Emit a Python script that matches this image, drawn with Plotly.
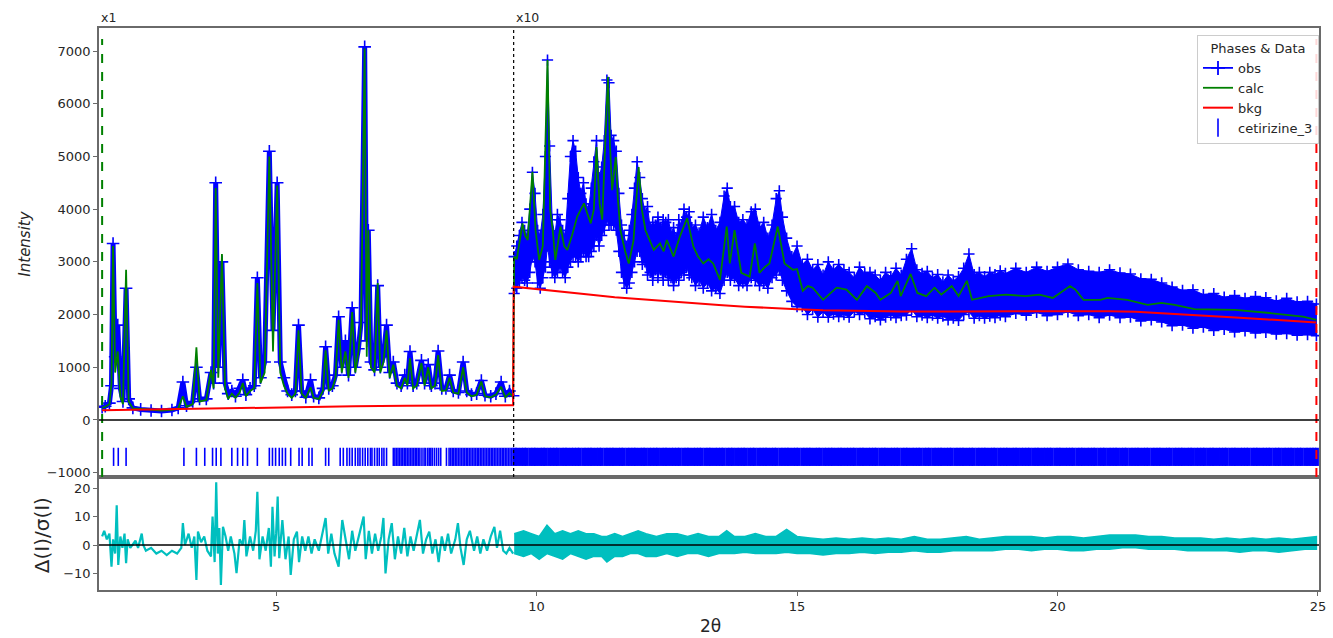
import plotly.graph_objects as go

# ---------------- data ----------------
# low-angle segment, shown at scale x1: key points of the profile
seg1_tth = [1.66, 1.72, 1.80, 1.84, 1.87, 1.91, 1.96, 2.01, 2.06, 2.12,
            2.17, 2.25, 2.40, 2.60, 2.80, 3.00, 3.12, 3.21, 3.28, 3.40,
            3.47, 3.53, 3.66, 3.75, 3.80, 3.84, 3.89, 3.96, 4.02, 4.08,
            4.15, 4.22, 4.30, 4.36, 4.42, 4.50, 4.58, 4.64, 4.70, 4.78,
            4.87, 4.94, 5.02, 5.08, 5.15, 5.22, 5.30, 5.37, 5.43, 5.49,
            5.57, 5.66, 5.72, 5.82, 5.90, 5.95, 6.01, 6.08, 6.14, 6.20,
            6.26, 6.33, 6.39, 6.46, 6.52, 6.58, 6.63, 6.70, 6.74, 6.77,
            6.82, 6.89, 6.95, 7.00, 7.06, 7.12, 7.18, 7.25, 7.32, 7.40,
            7.47, 7.52, 7.57, 7.63, 7.70, 7.79, 7.85, 7.92, 7.98, 8.05,
            8.11, 8.18, 8.26, 8.33, 8.40, 8.50, 8.59, 8.66, 8.75, 8.85,
            8.94, 9.01, 9.12, 9.22, 9.32, 9.40, 9.48, 9.55]
seg1_calc = [230, 250, 300, 700, 3300, 900, 1300, 450, 300, 2850,
             350, 220, 210, 190, 180, 190, 220, 450, 250, 300,
             1380, 350, 380, 950, 600, 4400, 800, 3150, 600, 400,
             500, 420, 520, 700, 450, 550, 600, 2600, 700, 900,
             5000, 1300, 4450, 900, 650, 500, 420, 500, 1700, 500,
             420, 620, 420, 400, 550, 1320, 550, 600, 800, 1900,
             900, 1300, 800, 2050, 900, 1300, 1800, 7050, 1200, 3600,
             1000, 900, 2600, 900, 1100, 1700, 800, 1050, 650, 600,
             800, 650, 1170, 600, 650, 1080, 650, 1000, 600, 650,
             1230, 550, 560, 800, 520, 500, 1000, 520, 450, 480,
             730, 450, 430, 480, 630, 430, 510, 440]
seg1_obs = [240, 260, 320, 650, 3350, 1200, 1800, 600, 350, 2500,
            400, 230, 200, 180, 170, 190, 230, 720, 270, 350,
            1000, 400, 400, 900, 700, 4500, 1000, 3000, 700, 500,
            550, 450, 600, 760, 480, 600, 650, 2700, 800, 1100,
            5100, 1700, 4500, 1100, 800, 550, 480, 550, 1800, 550,
            430, 760, 450, 420, 600, 1390, 600, 650, 850, 1960,
            1000, 1500, 850, 2130, 1000, 1350, 1850, 7080, 1500, 3600,
            1100, 950, 2550, 1000, 1200, 1800, 900, 1100, 700, 650,
            850, 700, 1300, 650, 700, 1130, 700, 1050, 650, 700,
            1310, 600, 600, 850, 550, 520, 1100, 550, 480, 500,
            750, 470, 450, 500, 720, 450, 550, 460]

# high-angle segment, shown at scale x10: observed band (upper / lower edge)
seg2_tth = [9.57, 9.62, 9.67, 9.72, 9.77, 9.82, 9.87, 9.92, 9.97, 10.02,
            10.07, 10.12, 10.17, 10.21, 10.25, 10.30, 10.35, 10.40, 10.45, 10.50,
            10.55, 10.60, 10.65, 10.70, 10.75, 10.80, 10.85, 10.90, 10.95, 11.00,
            11.05, 11.10, 11.15, 11.20, 11.25, 11.30, 11.35, 11.39, 11.43, 11.48,
            11.53, 11.58, 11.63, 11.68, 11.73, 11.78, 11.83, 11.88, 11.93, 11.98,
            12.03, 12.08, 12.13, 12.18, 12.23, 12.28, 12.33, 12.38, 12.43, 12.48,
            12.53, 12.58, 12.63, 12.68, 12.73, 12.78, 12.83, 12.88, 12.93, 12.98,
            13.05, 13.12, 13.20, 13.28, 13.36, 13.44, 13.52, 13.60, 13.66, 13.72,
            13.80, 13.88, 13.96, 14.04, 14.12, 14.20, 14.28, 14.36, 14.44, 14.52,
            14.60, 14.66, 14.72, 14.80, 14.90, 15.00, 15.10, 15.20, 15.30, 15.40,
            15.50, 15.60, 15.70, 15.80, 15.90, 16.00, 16.10, 16.20, 16.30, 16.40,
            16.50, 16.60, 16.70, 16.80, 16.90, 17.00, 17.10, 17.20, 17.30, 17.40,
            17.50, 17.60, 17.70, 17.80, 17.90, 18.00, 18.10, 18.20, 18.30, 18.40,
            18.50, 18.60, 18.70, 18.80, 18.90, 19.00, 19.20, 19.40, 19.60, 19.80,
            20.00, 20.20, 20.40, 20.60, 20.80, 21.00, 21.20, 21.40, 21.60, 21.80,
            22.00, 22.20, 22.40, 22.60, 22.80, 23.00, 23.20, 23.40, 23.60, 23.80,
            24.00, 24.20, 24.40, 24.60, 24.80, 24.97]
seg2_obs_hi = [3100, 3300, 3500, 3750, 3600, 3500, 4000, 4700, 4300, 3600,
               3500, 3900, 5000, 6830, 5200, 3800, 3500, 3900, 3800, 3600,
               3500, 4200, 5000, 5300, 5100, 4600, 4300, 4500, 4100, 4000,
               4400, 4900, 5300, 4600, 4800, 5300, 6450, 6400, 5400, 5300,
               5100, 4300, 3700, 3500, 3300, 3600, 3900, 4400, 4900, 4600,
               4200, 3950, 4050, 3650, 3750, 3700, 3850, 3650, 3800, 3750,
               3800, 3550, 3650, 3450, 3800, 3700, 4000, 3850, 3950, 3650,
               3700, 3550, 3850, 3650, 3900, 3600, 3750, 4250, 4400, 4050,
               4050, 3750, 3800, 3700, 3950, 4000, 3650, 3750, 3450, 3700,
               4200, 4350, 3850, 3450, 3100, 3300, 2950, 3050, 2850, 2950,
               2750, 3000, 2850, 2950, 2850, 2800, 2700, 2900, 2780, 2800,
               2750, 2650, 2800, 2720, 2880, 2750, 3050, 3250, 2850, 2780,
               2820, 2700, 2760, 2620, 2750, 2640, 2720, 2880, 3150, 2760,
               2800, 2720, 2800, 2760, 2830, 2780, 2880, 2800, 2900, 2820,
               2900, 2960, 2850, 2820, 2800, 2850, 2790, 2770, 2680, 2670,
               2600, 2520, 2460, 2470, 2380, 2400, 2330, 2360, 2310, 2340,
               2320, 2260, 2310, 2240, 2250, 2200]
seg2_obs_lo = [2400, 2500, 2600, 2700, 2650, 2600, 2800, 3100, 3000, 2600,
               2500, 2700, 2900, 3300, 3000, 2800, 2700, 2800, 2900, 2800,
               2700, 2900, 3000, 3100, 3100, 3000, 3100, 3200, 3100, 3100,
               3200, 3300, 3500, 3300, 3500, 3600, 3800, 3700, 3700, 3700,
               3600, 3200, 2800, 2600, 2500, 2600, 2800, 3000, 3200, 3200,
               2950, 3000, 2750, 2800, 2650, 2850, 2700, 2850, 2650, 2800,
               2650, 2700, 2550, 2700, 2650, 2800, 2750, 2900, 2750, 2700,
               2550, 2650, 2500, 2600, 2450, 2500, 2400, 2650, 2800, 2650,
               2700, 2550, 2600, 2550, 2700, 2650, 2550, 2600, 2500, 2700,
               2750, 2850, 2650, 2450, 2250, 2150, 2150, 2000, 2100, 1950,
               2050, 1950, 2010, 1960, 2000, 1950, 2060, 2000, 2040, 1920,
               1960, 1900, 1950, 1990, 1940, 1980, 1990, 2100, 1960, 1990,
               1940, 1990, 1930, 1970, 1900, 1930, 1890, 2000, 2050, 1930,
               1980, 1930, 1970, 1940, 1990, 1960, 2020, 1990, 2040, 1980,
               2000, 2050, 1980, 2000, 1940, 1990, 1940, 1950, 1880, 1900,
               1860, 1790, 1800, 1740, 1760, 1700, 1720, 1670, 1690, 1650,
               1660, 1630, 1640, 1610, 1620, 1600]

# high-angle calculated profile (x10)
seg2_calc_tth = [9.57, 9.62, 9.68, 9.73, 9.78, 9.83, 9.92, 9.98, 10.05, 10.12,
                 10.21, 10.26, 10.31, 10.36, 10.46, 10.53, 10.59, 10.68, 10.78, 10.91,
                 10.98, 11.04, 11.10, 11.15, 11.21, 11.26, 11.37, 11.41, 11.45, 11.52,
                 11.56, 11.61, 11.70, 11.77, 11.86, 11.96, 12.02, 12.09, 12.25, 12.37,
                 12.44, 12.50, 12.63, 12.75, 12.89, 13.01, 13.10, 13.20, 13.30, 13.39,
                 13.52, 13.65, 13.71, 13.80, 13.93, 14.09, 14.19, 14.28, 14.38, 14.47,
                 14.63, 14.76, 14.92, 15.00, 15.11, 15.21, 15.30, 15.50, 15.76, 15.95,
                 16.15, 16.34, 16.51, 16.60, 16.80, 16.93, 16.99, 17.18, 17.31, 17.48,
                 17.64, 17.77, 17.97, 18.10, 18.26, 18.36, 18.68, 19.01, 19.39, 19.65,
                 19.91, 20.24, 20.34, 20.50, 20.82, 20.96, 21.34, 21.73, 21.99, 22.25,
                 22.63, 23.41, 24.07, 24.71, 24.97]
seg2_calc = [3100, 3050, 3400, 3730, 3500, 3415, 4710, 3600, 3036, 3300,
             6830, 4000, 3600, 3036, 3670, 3300, 3226, 3500, 3860, 4110,
             3900, 3730, 4000, 5180, 4100, 3800, 6510, 5200, 4360, 4990,
             4200, 3600, 3200, 2970, 3400, 4800, 4000, 3600, 3226, 3350,
             3200, 3415, 3100, 3480, 3830, 3290, 3100, 2970, 3050, 2970,
             2660, 3670, 2970, 3600, 2790, 2720, 3350, 2790, 2900, 2970,
             3670, 2970, 2850, 2865, 2450, 2540, 2510, 2280, 2510, 2475,
             2280, 2540, 2410, 2280, 2410, 2640, 2350, 2770, 2410, 2350,
             2510, 2380, 2540, 2350, 2640, 2280, 2350, 2380, 2350, 2380,
             2315, 2540, 2475, 2280, 2280, 2315, 2280, 2185, 2220, 2185,
             2105, 2090, 2030, 1960, 1900]

# background (both segments, as displayed)
bkg_tth = [1.66, 2.5, 3.5, 4.5, 5.5, 6.5, 7.5, 8.5, 9.55, 9.56,
           10.0, 10.5, 11.0, 11.5, 12.0, 12.5, 13.0, 13.5, 14.0, 14.5,
           15.0, 15.5, 16.0, 17.0, 18.0, 19.0, 20.0, 21.0, 21.5, 22.0,
           22.5, 23.0, 23.5, 24.0, 24.5, 24.97]
bkg = [185, 200, 215, 230, 245, 258, 268, 275, 280, 2530,
       2480, 2430, 2380, 2330, 2290, 2250, 2210, 2180, 2150, 2120,
       2100, 2080, 2070, 2060, 2060, 2065, 2070, 2065, 2055, 2030,
       2000, 1970, 1940, 1910, 1880, 1850]

# reflection positions of cetirizine_3
refl_low = [1.88, 1.97, 2.12, 3.23, 3.47, 3.63, 3.78, 3.85, 3.94, 4.15,
            4.26, 4.36, 4.45, 4.64, 4.87, 4.93, 4.99, 5.06, 5.12, 5.18,
            5.28, 5.44, 5.50, 5.63, 5.69, 5.95, 6.01, 6.23, 6.29, 6.36,
            6.41, 6.46, 6.52, 6.57, 6.61, 6.66, 6.71, 6.76, 6.81, 6.84,
            6.89, 6.94, 6.98, 7.03, 7.07, 7.12, 7.25, 7.28, 7.31, 7.34,
            7.37, 7.40, 7.43, 7.46, 7.49, 7.52, 7.55, 7.58, 7.61, 7.64,
            7.67, 7.70, 7.73, 7.76, 7.80, 7.84, 7.87, 7.91, 7.94, 7.97,
            8.00, 8.04, 8.08, 8.12, 8.16, 8.27, 8.32, 8.35, 8.38, 8.41,
            8.44, 8.47, 8.50, 8.53, 8.56, 8.59, 8.62, 8.65, 8.68, 8.71,
            8.74, 8.77, 8.80, 8.83, 8.86, 8.89, 8.92, 8.95, 8.98, 9.01,
            9.04, 9.07, 9.10, 9.13, 9.16, 9.19, 9.22, 9.25, 9.28, 9.31,
            9.34, 9.37, 9.40, 9.43, 9.46, 9.49, 9.52, 9.55]
refl_high = [9.58, 9.63, 9.70, 9.76, 9.81, 9.88, 9.94, 9.99, 10.06, 10.12,
             10.17, 10.24, 10.30, 10.36, 10.41, 10.48, 10.54, 10.59, 10.66, 10.72,
             10.78, 10.83, 10.90, 10.96, 11.02, 11.07, 11.14, 11.20, 11.25, 11.32,
             11.38, 11.44, 11.49, 11.56, 11.62, 11.67, 11.74, 11.80, 11.86, 11.91,
             11.98, 12.04, 12.09, 12.16, 12.22, 12.28, 12.33, 12.40, 12.46, 12.51,
             12.58, 12.64, 12.70, 12.75, 12.82, 12.88, 12.93, 13.00, 13.06, 13.12,
             13.17, 13.24, 13.30, 13.35, 13.42, 13.48, 13.54, 13.59, 13.66, 13.72,
             13.77, 13.84, 13.90, 13.96, 14.01, 14.08, 14.14, 14.19, 14.26, 14.32,
             14.38, 14.43, 14.50, 14.56, 14.61, 14.68, 14.74, 14.80, 14.85, 14.92,
             14.98, 15.03, 15.10, 15.16, 15.22, 15.27, 15.34, 15.40, 15.45, 15.52,
             15.58, 15.64, 15.69, 15.76, 15.82, 15.87, 15.94, 16.00, 16.06, 16.11,
             16.18, 16.24, 16.29, 16.36, 16.42, 16.48, 16.53, 16.60, 16.66, 16.71,
             16.78, 16.84, 16.90, 16.95, 17.02, 17.08, 17.13, 17.20, 17.26, 17.32,
             17.37, 17.44, 17.50, 17.55, 17.62, 17.68, 17.74, 17.79, 17.86, 17.92,
             17.97, 18.04, 18.10, 18.16, 18.21, 18.28, 18.34, 18.39, 18.46, 18.52,
             18.58, 18.63, 18.70, 18.76, 18.81, 18.88, 18.94, 19.00, 19.05, 19.12,
             19.18, 19.23, 19.30, 19.36, 19.42, 19.47, 19.54, 19.60, 19.65, 19.72,
             19.78, 19.84, 19.89, 19.96, 20.02, 20.07, 20.14, 20.20, 20.26, 20.31,
             20.38, 20.44, 20.49, 20.56, 20.62, 20.68, 20.73, 20.80, 20.86, 20.91,
             20.98, 21.04, 21.10, 21.15, 21.22, 21.28, 21.33, 21.40, 21.46, 21.52,
             21.57, 21.64, 21.70, 21.75, 21.82, 21.88, 21.94, 21.99, 22.06, 22.12,
             22.17, 22.24, 22.30, 22.36, 22.41, 22.48, 22.54, 22.59, 22.66, 22.72,
             22.78, 22.83, 22.90, 22.96, 23.01, 23.08, 23.14, 23.20, 23.25, 23.32,
             23.38, 23.43, 23.50, 23.56, 23.62, 23.67, 23.74, 23.80, 23.85, 23.92,
             23.98, 24.04, 24.09, 24.16, 24.22, 24.27, 24.34, 24.40, 24.46, 24.51,
             24.58, 24.64, 24.69, 24.76, 24.82, 24.88, 24.93, 24.98]

# normalised difference, low-angle segment
res1_tth = [1.66, 1.70, 1.75, 1.80, 1.84, 1.87, 1.91, 1.94, 1.97, 2.01,
            2.05, 2.09, 2.12, 2.15, 2.20, 2.30, 2.35, 2.42, 2.45, 2.50,
            2.60, 2.70, 2.80, 2.90, 3.00, 3.10, 3.18, 3.21, 3.25, 3.32,
            3.38, 3.43, 3.47, 3.50, 3.56, 3.62, 3.68, 3.75, 3.78, 3.82,
            3.85, 3.88, 3.91, 3.94, 3.98, 4.03, 4.08, 4.13, 4.20, 4.24,
            4.30, 4.36, 4.39, 4.43, 4.50, 4.56, 4.61, 4.64, 4.68, 4.74,
            4.80, 4.86, 4.90, 4.93, 4.97, 5.00, 5.03, 5.06, 5.12, 5.18,
            5.24, 5.28, 5.34, 5.40, 5.44, 5.50, 5.56, 5.62, 5.68, 5.74,
            5.82, 5.88, 5.95, 6.00, 6.06, 6.12, 6.20, 6.27, 6.33, 6.40,
            6.46, 6.52, 6.60, 6.68, 6.72, 6.78, 6.84, 6.90, 6.96, 7.02,
            7.06, 7.10, 7.16, 7.22, 7.28, 7.34, 7.40, 7.46, 7.52, 7.58,
            7.64, 7.70, 7.76, 7.82, 7.88, 7.94, 8.00, 8.06, 8.12, 8.18,
            8.24, 8.30, 8.36, 8.44, 8.49, 8.54, 8.60, 8.66, 8.72, 8.80,
            8.86, 8.92, 8.98, 9.05, 9.12, 9.19, 9.24, 9.30, 9.36, 9.42,
            9.48, 9.55]
res1 = [3, 5, 2, 4, -7.6, 2, -3, 14, -7, 3,
        -1, 4, -6.4, 2, -1, 1.5, -1, 4, 0, -2,
        -1, -3, -2, -3.5, -2, -3, -1, 7.7, 0, 4,
        -1, 3, -12.3, 4.7, 1, 3, -2, -4, 10, -6,
        22, -3, 6, -14, 6.4, 3, -2, 3, -3, -9.9,
        2, 0, 8.8, -4, 3, -2, 5, 18.7, -5, 3,
        -2, 6, -7.6, 13.4, -4, 4, 17, -4.6, 8.8, -5,
        3, -10.5, 2, 4.7, -6, 3, -2, 3, -3, 2,
        -2, 3, 9.5, -3, 4, -3, -7.6, 8.8, 2, -5,
        5, -2, 4, 10, -5, 5, -3, 4, -2, 3,
        9.5, -10, 2, 7.7, -5, 3, -3, 6, -4, 3,
        -2, 4, 8.8, -3, 2, 4.7, -3, 2, -6, 3,
        -2, 4, -3, 2, 7.7, -1, -7, 2, 5, -2,
        3, -3, 2, -2, 3, 6.4, -1, 5, -2, -3,
        -1, -3]

# normalised difference, high-angle segment (upper / lower edge of the noise band)
res2_tth = [9.57, 9.75, 9.90, 10.05, 10.20, 10.35, 10.50, 10.65, 10.80, 10.95,
            11.10, 11.25, 11.35, 11.50, 11.65, 11.80, 11.95, 12.10, 12.30, 12.50,
            12.70, 12.90, 13.10, 13.30, 13.50, 13.65, 13.80, 14.00, 14.20, 14.40,
            14.60, 14.80, 15.00, 15.25, 15.50, 15.75, 16.00, 16.25, 16.50, 16.75,
            17.00, 17.25, 17.50, 17.75, 18.00, 18.25, 18.50, 18.75, 19.00, 19.25,
            19.50, 19.75, 20.00, 20.25, 20.50, 20.75, 21.00, 21.25, 21.50, 21.75,
            22.00, 22.25, 22.50, 22.75, 23.00, 23.25, 23.50, 23.75, 24.00, 24.25,
            24.50, 24.75, 24.97]
res2_hi = [4, 5, 4, 3, 7, 4, 5, 4, 5, 4,
           4, 3, 3, 4, 3, 4, 5, 4, 3, 4,
           4, 3, 4, 3, 3, 5, 3, 3, 4, 3,
           3, 5.5, 3, 2.5, 2, 2.5, 2, 2.5, 2, 2.5,
           2, 3, 2, 2, 2.5, 3, 2, 2.5, 3, 3,
           3, 2.5, 3, 3, 2.5, 3, 3.5, 3.5, 3.5, 3,
           3, 2.5, 2.5, 2.5, 2, 2.5, 2, 2.5, 2, 2.5,
           2, 2.5, 3]
res2_lo = [-3, -4, -3, -5, -3, -4, -5, -3, -4, -5,
           -4, -4, -6, -4, -4, -3, -3, -4, -4, -3,
           -4, -3, -3, -4, -3, -3, -3, -2.5, -3, -3,
           -3, -2.5, -3, -3, -3.5, -3, -3, -2.5, -3, -2.5,
           -2.5, -2, -2.5, -2.5, -2, -2, -2, -2, -1.5, -1.5,
           -2, -1.5, -1.5, -2, -2, -1.5, -1.5, -1, -1, -1.5,
           -1.5, -1.5, -2, -2, -2, -2, -2.5, -2, -2, -2.5,
           -2, -1.5, -1.5]

int_ticks = [-1000, 0, 1000, 2000, 3000, 4000, 5000, 6000, 7000]
int_ticktext = ["\u22121000", "0", "1000", "2000", "3000", "4000", "5000", "6000", "7000"]
res_ticks = [-10, 0, 10, 20]
res_ticktext = ["\u221210", "0", "10", "20"]
tth_ticks = [5, 10, 15, 20, 25]

# ---------------- styling / layout constants ----------------
BLUE, GREEN, RED, CYAN = "#0000ff", "#008000", "#ff0000", "#00bfbf"
SPINE = "#6a6a6a"
FONT = "DejaVu Sans"
TXT = "#262626"
REFL_Y = -700
X_RANGE = [1.60, 25.02]
Y2_RANGE = [-1082, 7438]
Y1_RANGE = [-15.8, 23.9]
SPLIT = 0.2011
SEG_BREAK = 9.56
MARK_TOP = 7230

fig = go.Figure()

common2 = dict(xaxis="x2", yaxis="y2", hoverinfo="skip")

# observed, high-angle band
fig.add_trace(go.Scatter(x=seg2_tth + seg2_tth[::-1], y=seg2_obs_hi + seg2_obs_lo[::-1],
                         mode="lines", fill="toself", fillcolor=BLUE,
                         line=dict(color=BLUE, width=1), showlegend=False, **common2))
for edge in (seg2_obs_hi, seg2_obs_lo):
    fig.add_trace(go.Scatter(x=seg2_tth, y=edge, mode="markers",
                             marker=dict(symbol="cross-thin", size=8, color=BLUE,
                                         line=dict(color=BLUE, width=1.6)),
                             showlegend=False, **common2))
# observed, low-angle
fig.add_trace(go.Scatter(x=seg1_tth, y=seg1_obs, mode="lines+markers",
                         line=dict(color=BLUE, width=5),
                         marker=dict(symbol="cross-thin", size=9, color=BLUE,
                                     line=dict(color=BLUE, width=1.6)),
                         showlegend=False, **common2))
# legend entry for obs
fig.add_trace(go.Scatter(x=[None], y=[None], mode="lines+markers", name="obs",
                         line=dict(color=BLUE, width=1.8),
                         marker=dict(symbol="cross-thin", size=10, color=BLUE,
                                     line=dict(color=BLUE, width=1.8)),
                         legendrank=1, **common2))
# calc
fig.add_trace(go.Scatter(x=seg1_tth + seg2_calc_tth, y=seg1_calc + seg2_calc,
                         mode="lines", name="calc", line=dict(color=GREEN, width=1.8),
                         legendrank=2, **common2))
# background
fig.add_trace(go.Scatter(x=bkg_tth, y=bkg, mode="lines", name="bkg",
                         line=dict(color=RED, width=2), legendrank=3, **common2))
# reflection ticks
fig.add_trace(go.Scatter(x=refl_low, y=[REFL_Y] * len(refl_low), mode="markers",
                         marker=dict(symbol="line-ns", size=13,
                                     line=dict(color=BLUE, width=1.6)),
                         name="cetirizine_3", legendrank=4, **common2))
fig.add_trace(go.Scatter(x=refl_high, y=[REFL_Y] * len(refl_high), mode="markers",
                         marker=dict(symbol="line-ns", size=13,
                                     line=dict(color=BLUE, width=4)),
                         showlegend=False, **common2))
# residuals
fig.add_trace(go.Scatter(x=res1_tth, y=res1, mode="lines", line=dict(color=CYAN, width=2.2),
                         showlegend=False, xaxis="x", yaxis="y", hoverinfo="skip"))
fig.add_trace(go.Scatter(x=res2_tth + res2_tth[::-1], y=res2_hi + res2_lo[::-1],
                         mode="lines", fill="toself", fillcolor=CYAN,
                         line=dict(color=CYAN, width=1.5),
                         showlegend=False, xaxis="x", yaxis="y", hoverinfo="skip"))

axis_common = dict(showline=True, linecolor=SPINE, linewidth=1.5, mirror=True,
                   showgrid=False, zeroline=False,
                   tickfont=dict(family=FONT, size=13, color=TXT))

fig.update_layout(
    width=1333, height=638,
    margin=dict(l=99, r=7, t=28, b=48),
    paper_bgcolor="white", plot_bgcolor="white",
    font=dict(family=FONT, color=TXT),
    xaxis=dict(domain=[0, 1], anchor="y", range=X_RANGE, tickvals=tth_ticks,
               ticks="outside", ticklen=4, tickwidth=1, tickcolor=SPINE, **axis_common),
    xaxis2=dict(domain=[0, 1], anchor="y2", range=X_RANGE, matches="x",
                showticklabels=False, ticks="", **axis_common),
    yaxis=dict(domain=[0, SPLIT], anchor="x", range=Y1_RANGE, tickvals=res_ticks,
               ticktext=res_ticktext, ticks="outside", ticklen=4, tickwidth=1,
               tickcolor=SPINE, **axis_common),
    yaxis2=dict(domain=[SPLIT, 1], anchor="x2", range=Y2_RANGE, tickvals=int_ticks,
                ticktext=int_ticktext, ticks="outside", ticklen=4, tickwidth=1,
                tickcolor=SPINE, **axis_common),
    legend=dict(x=1.0, xanchor="right", y=0.9875, yanchor="top",
                bgcolor="rgba(255,255,255,0.85)", bordercolor="#cccccc", borderwidth=1,
                font=dict(family=FONT, size=13, color=TXT),
                title=dict(text="Phases & Data", side="top center",
                           font=dict(family=FONT, size=13, color=TXT)),
                tracegroupgap=0, itemwidth=30),
    showlegend=True,
)

shapes = [
    dict(type="line", xref="x2", yref="y2", x0=seg1_tth[0], x1=seg1_tth[0],
         y0=Y2_RANGE[0], y1=MARK_TOP, line=dict(color=GREEN, width=2, dash="dash")),
    dict(type="line", xref="x2", yref="y2", x0=seg2_tth[-1], x1=seg2_tth[-1],
         y0=Y2_RANGE[0], y1=MARK_TOP, line=dict(color=RED, width=2, dash="dash")),
    dict(type="line", xref="x2", yref="y2 domain", x0=SEG_BREAK, x1=SEG_BREAK,
         y0=0, y1=1, line=dict(color="black", width=1.2, dash="dot")),
    dict(type="line", xref="x2 domain", yref="y2", x0=0, x1=1, y0=0, y1=0,
         line=dict(color="black", width=1.6)),
    dict(type="line", xref="x domain", yref="y", x0=0, x1=1, y0=0, y1=0,
         line=dict(color="black", width=1.6)),
]
fig.update_layout(shapes=shapes)

ann = [
    dict(text="x1", xref="x2", yref="paper", x=X_RANGE[0], y=1, xanchor="left",
         yanchor="bottom", showarrow=False, yshift=1,
         font=dict(family=FONT, size=12.5, color=TXT)),
    dict(text="x10", xref="x2", yref="paper", x=SEG_BREAK, y=1, xanchor="left",
         yanchor="bottom", showarrow=False, yshift=1,
         font=dict(family=FONT, size=12.5, color=TXT)),
    dict(text="<i>Intensity</i>", xref="paper", yref="paper", x=-0.0603, y=0.617,
         xanchor="center", yanchor="middle",
         textangle=-90, showarrow=False, font=dict(family=FONT, size=15, color=TXT)),
    dict(text="\u0394(I)/\u03c3(I)", xref="paper", yref="paper", x=-0.0465, y=0.098,
         xanchor="center", yanchor="middle",
         textangle=-90, showarrow=False, font=dict(family=FONT, size=20, color=TXT)),
    dict(text="2\u03b8", xref="paper", yref="paper", x=0.501, y=-0.064,
         xanchor="center", yanchor="middle",
         showarrow=False, font=dict(family=FONT, size=17, color=TXT)),
]
fig.update_layout(annotations=ann)

fig.write_html("out.html")
